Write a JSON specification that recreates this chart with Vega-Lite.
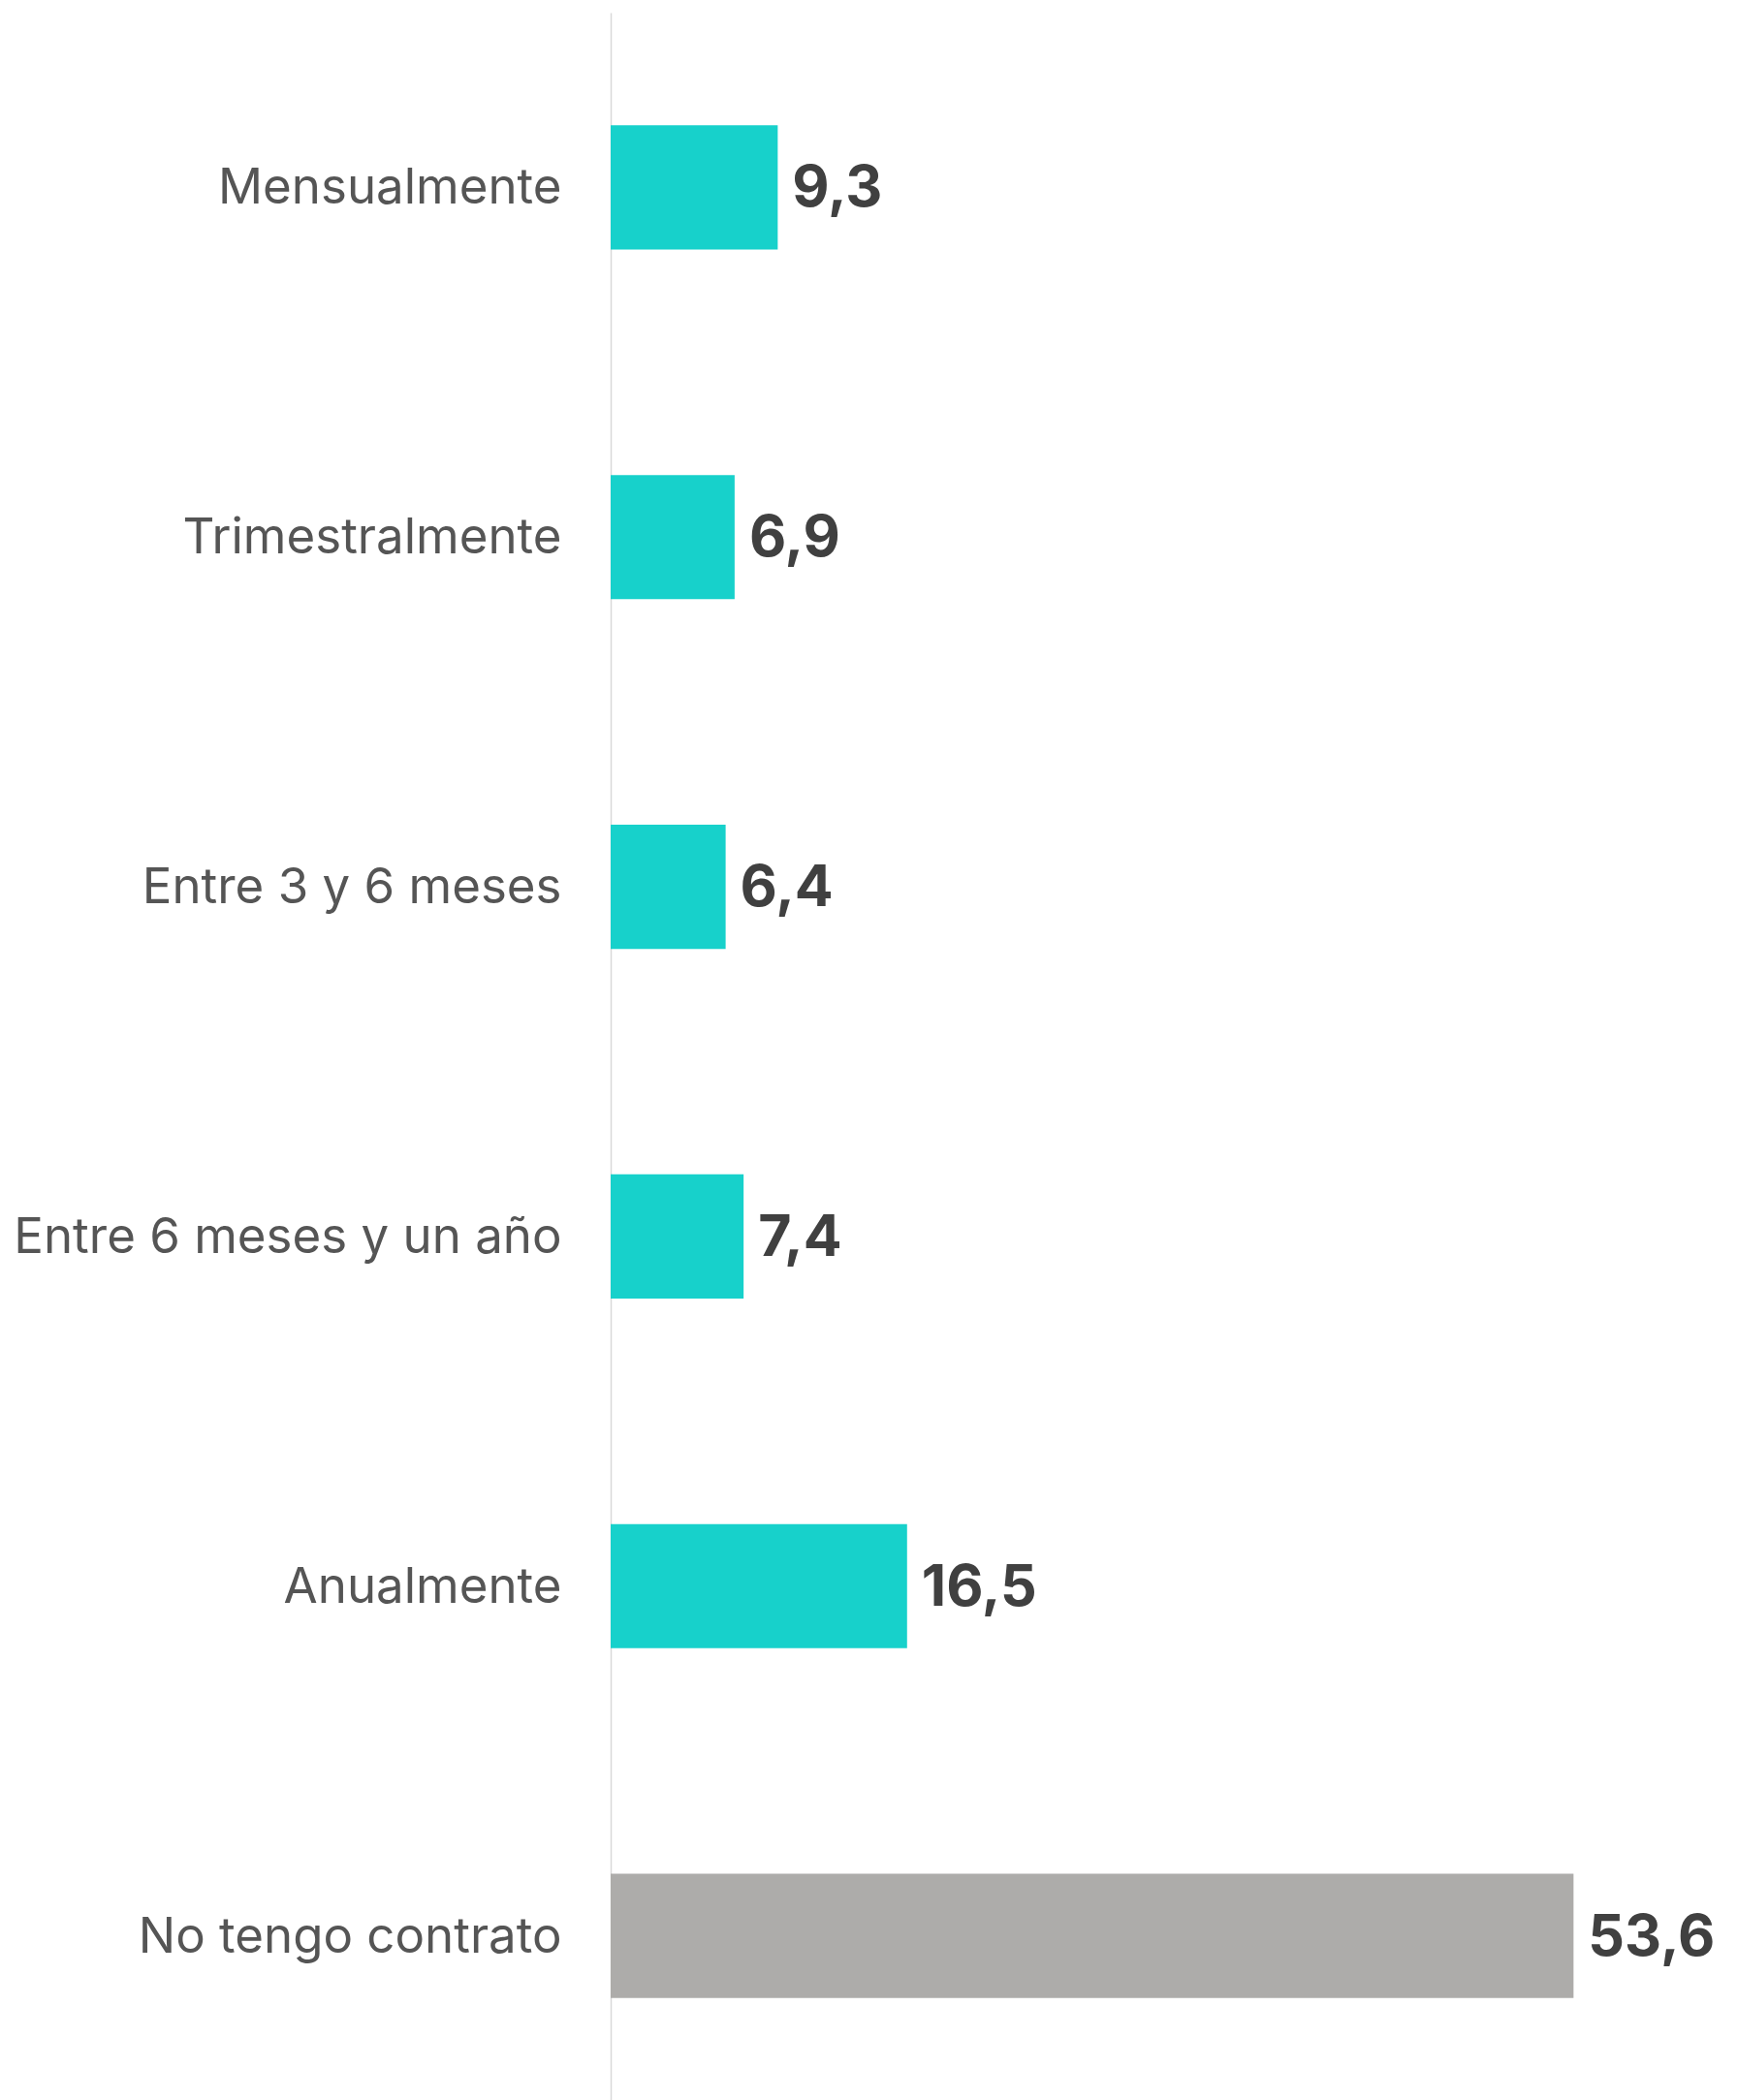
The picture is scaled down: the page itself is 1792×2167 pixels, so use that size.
{
  "$schema": "https://vega.github.io/schema/vega-lite/v6.json",
  "autosize": "none",
  "width": 1162,
  "height": 2165,
  "padding": {"left": 630, "top": 13, "right": 0, "bottom": 0},
  "background": "#ffffff",
  "config": {
    "view": {"stroke": null},
    "locale": {"number": {"decimal": ",", "thousands": ".", "grouping": [3], "currency": ["", " €"]}}
  },
  "data": {
    "values": [
      {"categoria": "Mensualmente", "valor": 9.3, "tipo": "contrato"},
      {"categoria": "Trimestralmente", "valor": 6.9, "tipo": "contrato"},
      {"categoria": "Entre 3 y 6 meses", "valor": 6.4, "tipo": "contrato"},
      {"categoria": "Entre 6 meses y un año", "valor": 7.4, "tipo": "contrato"},
      {"categoria": "Anualmente", "valor": 16.5, "tipo": "contrato"},
      {"categoria": "No tengo contrato", "valor": 53.6, "tipo": "sin"}
    ]
  },
  "encoding": {
    "y": {
      "field": "categoria",
      "type": "nominal",
      "sort": null,
      "scale": {"paddingInner": 0.645, "paddingOuter": 0.3225},
      "axis": {
        "title": null,
        "ticks": false,
        "domain": true,
        "domainColor": "#d9d9d9",
        "domainWidth": 1.5,
        "labelFont": "Inter",
        "labelFontSize": 51,
        "labelColor": "#555555",
        "labelPadding": 51,
        "labelOffset": 2,
        "labelLimit": 0,
        "grid": false
      }
    },
    "x": {
      "field": "valor",
      "type": "quantitative",
      "scale": {"domain": [0, 62.7], "nice": false},
      "axis": null
    }
  },
  "layer": [
    {
      "mark": {"type": "bar"},
      "encoding": {
        "color": {
          "field": "tipo",
          "type": "nominal",
          "scale": {"domain": ["contrato", "sin"], "range": ["#17d1cb", "#adacaa"]},
          "legend": null
        }
      }
    },
    {
      "mark": {
        "type": "text",
        "align": "left",
        "baseline": "middle",
        "dx": 15,
        "dy": 2,
        "font": "Inter",
        "fontSize": 59,
        "fontWeight": "bold",
        "color": "#404040"
      },
      "encoding": {
        "text": {"field": "valor", "type": "quantitative", "format": ".1f"}
      }
    }
  ]
}
